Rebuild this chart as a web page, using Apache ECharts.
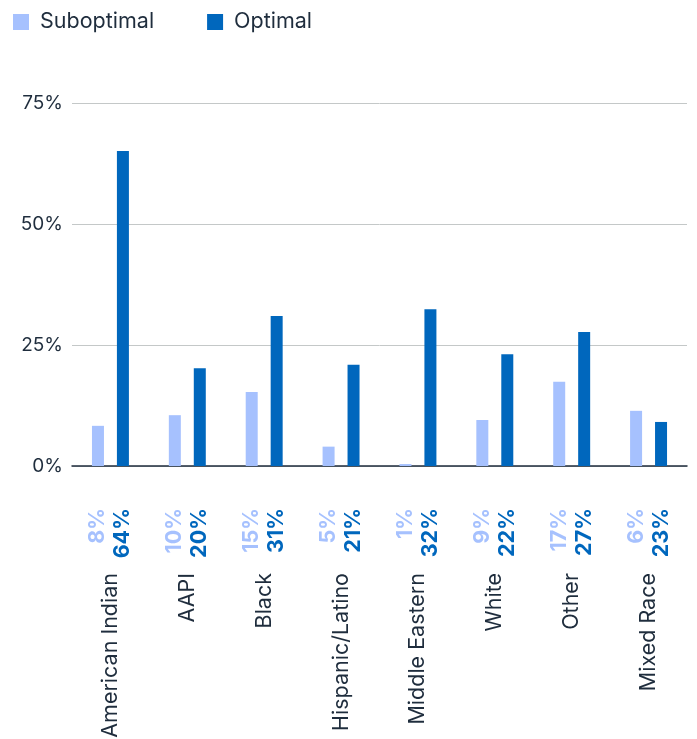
<!DOCTYPE html>
<html>
<head>
<meta charset="utf-8">
<script src="https://cdn.jsdelivr.net/npm/echarts@6/dist/echarts.min.js"></script>
<style>
html,body{margin:0;padding:0;background:#fff;}
#chart{width:697px;height:739px;}
</style>
</head>
<body>
<div id="chart"></div>
<script>
var categories = ['American Indian', 'AAPI', 'Black', 'Hispanic/Latino', 'Middle Eastern', 'White', 'Other', 'Mixed Race'];
var suboptimalValues = [8.3, 10.5, 15.3, 4.0, 0.4, 9.5, 17.4, 11.4];
var optimalValues = [65.1, 20.2, 31.0, 20.9, 32.4, 23.1, 27.7, 9.1];
var suboptimalLabels = ['8%', '10%', '15%', '5%', '1%', '9%', '17%', '6%'];
var optimalLabels = ['64%', '20%', '31%', '21%', '32%', '22%', '27%', '23%'];
var yTicks = [0, 25, 50, 75];

var LIGHT = '#a6c1fe';
var DARK = '#0067bd';
var TEXT = '#1f2d3d';
var FONT = 'Inter, "Noto Sans", sans-serif';

var chart = echarts.init(document.getElementById('chart'), null, {renderer: 'canvas'});
chart.setOption({
  animation: false,
  textStyle: {fontFamily: FONT},
  legend: {
    left: 13, top: 11, padding: 0,
    itemWidth: 16, itemHeight: 16, itemGap: 53,
    icon: 'rect',
    textStyle: {fontSize: 21.5, color: TEXT, fontFamily: FONT, padding: [0, 0, 0, 6]},
    data: ['Suboptimal', 'Optimal']
  },
  grid: {left: 72, right: 10, top: 103, bottom: 273, containLabel: false, outerBoundsMode: 'none'},
  xAxis: [{
    type: 'category',
    data: categories,
    axisTick: {show: false},
    axisLine: {lineStyle: {color: TEXT, width: 1.5}},
    axisLabel: {
      interval: 0, rotate: 90, margin: 42,
      formatter: function (v, i) {
        return '{a|' + suboptimalLabels[i] + '}\n{b|' + optimalLabels[i] + '}';
      },
      rich: {
        a: {color: LIGHT, fontSize: 21.5, fontWeight: 'bold', lineHeight: 25, fontFamily: FONT},
        b: {color: DARK, fontSize: 21.5, fontWeight: 'bold', lineHeight: 25, fontFamily: FONT}
      }
    }
  }, {
    type: 'category',
    data: categories,
    position: 'bottom',
    axisTick: {show: false},
    axisLine: {show: false},
    axisLabel: {
      interval: 0, rotate: 90, margin: 107,
      fontSize: 21.5, color: TEXT, fontFamily: FONT
    }
  }],
  yAxis: {
    type: 'value',
    min: yTicks[0], max: yTicks[yTicks.length - 1], interval: 25,
    axisLine: {show: false},
    axisTick: {show: false},
    axisLabel: {formatter: '{value}%', fontSize: 19, color: TEXT, margin: 9, fontFamily: FONT},
    splitLine: {lineStyle: {color: '#c4c8c8', width: 1}}
  },
  series: [{
    name: 'Suboptimal', type: 'bar', xAxisIndex: 0,
    data: suboptimalValues, barWidth: 12, barGap: '108%',
    itemStyle: {color: LIGHT}
  }, {
    name: 'Optimal', type: 'bar', xAxisIndex: 0,
    data: optimalValues, barWidth: 12, barGap: '108%',
    itemStyle: {color: DARK}
  }]
});
</script>
</body>
</html>
